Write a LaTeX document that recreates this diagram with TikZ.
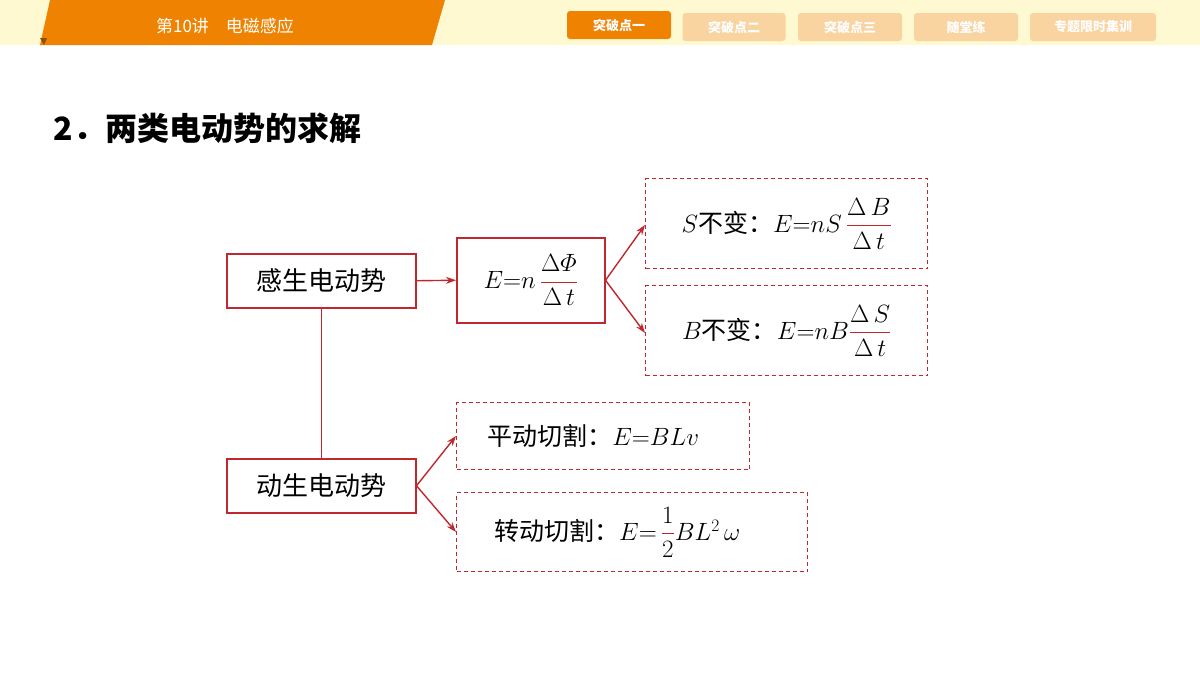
\documentclass[tikz,border=0pt]{standalone}
\usepackage{amsmath}
\usepackage{fontspec}
\usepackage{fix-cm}
\newfontfamily\cjk{Noto Sans CJK SC}
\usetikzlibrary{arrows.meta}
\definecolor{rd}{HTML}{C0282D}
\definecolor{org}{HTML}{EF8200}
\definecolor{lorg}{HTML}{F9D3A0}
\definecolor{ylw}{HTML}{FFF9D2}
\newcommand{\rfrac}[2]{{\color{rd}\dfrac{\color{black}#1}{\color{black}#2}}}
\begin{document}
\begin{tikzpicture}[x=1pt,y=-1pt,
  solidbox/.style={draw=rd,line width=1.5pt,minimum height=#1,inner sep=0pt,anchor=north west},
  dbox/.style={draw=rd,line width=1.4pt,dashed,dash pattern=on 4pt off 3pt,inner sep=0pt,anchor=north west},
  tab/.style={rounded corners=3pt,minimum height=28pt,inner sep=0pt,font=\cjk\fontsize{13}{13}\selectfont\bfseries,text=white},
  arr/.style={draw=rd,line width=1.4pt,-{Stealth[length=10pt,width=7pt]}},
  lbl/.style={font=\cjk\fontsize{26}{26}\selectfont},
  fm/.style={font=\fontsize{25}{25}\selectfont}]
\useasboundingbox (0,0) rectangle (1200,675);
\fill[white] (0,0) rectangle (1200,675);
\fill[ylw] (0,0) rectangle (1200,45);
\fill[org] (50,0) -- (445,0) -- (432,45) -- (40,45) -- cycle;
\fill[org!60!black] (40,38) -- (44,45) -- (47,38) -- cycle;
\node[font=\cjk\fontsize{17}{17}\selectfont,text=white] (hd) at (225,26) {第10讲\quad 电磁感应};
\node[tab,fill=org,minimum width=104pt] (t1) at (619,25) {突破点一};
\node[tab,fill=lorg,minimum width=103pt] (t2) at (734,27) {突破点二};
\node[tab,fill=lorg,minimum width=104pt] (t3) at (850,27) {突破点三};
\node[tab,fill=lorg,minimum width=104pt] (t4) at (966,27) {随堂练};
\node[tab,fill=lorg,minimum width=126pt] (t5) at (1093,27) {专题限时集训};
\node[anchor=west,font=\cjk\fontsize{32}{32}\selectfont\bfseries] (title) at (50,128) {2．两类电动势的求解};
\node[solidbox=54pt,minimum width=189pt,lbl] (A) at (226,253) {感生电动势};
\node[solidbox=85pt,minimum width=148pt,fm] (B) at (456,237) {$E{=}n\,\rfrac{\Delta\varPhi}{\Delta\, t}$};
\node[dbox,minimum width=282pt,minimum height=90pt,fm] (C) at (645,178) {$S$\cjk 不变：$E{=}nS\,\rfrac{\Delta\, B}{\Delta\, t}$};
\node[dbox,minimum width=282pt,minimum height=90pt,fm] (D) at (645,285) {$B$\cjk 不变：$E{=}nB\rfrac{\Delta\, S}{\Delta\, t}$};
\node[solidbox=54pt,minimum width=189pt,lbl] (E) at (226,458) {动生电动势};
\node[dbox,minimum width=293pt,minimum height=67pt,fm] (F) at (456,402) {\cjk 平动切割：$E{=}BLv$\hspace*{20pt}};
\node[dbox,minimum width=351pt,minimum height=79pt,fm] (G) at (456,492) {\cjk 转动切割：$E{=}\,\rfrac{1}{2}BL^{2}\,\omega$\hspace*{30pt}};
\draw[rd,line width=1.5pt] (A.south) -- (E.north);
\draw[arr] (A.east) -- (B.west);
\draw[arr] (B.east) -- (C.west|-0,225);
\draw[arr] (B.east) -- (D.west|-0,333);
\draw[arr] (E.east) -- (F.west|-0,436);
\draw[arr] (E.east) -- (G.west|-0,532);
\end{tikzpicture}
\end{document}
